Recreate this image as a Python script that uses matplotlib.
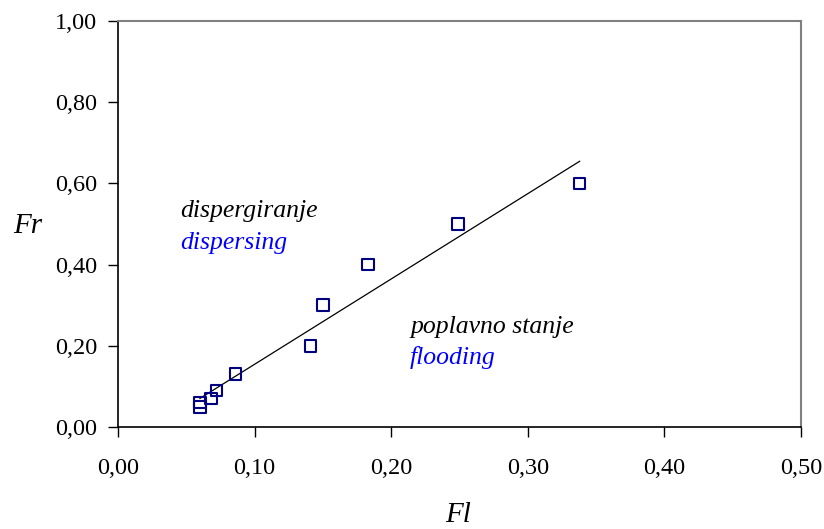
import numpy as np
import matplotlib
matplotlib.use("Agg")
import matplotlib.pyplot as plt
from matplotlib.ticker import FuncFormatter

# Fl (x) and Fr (y) values
fl = [0.060, 0.060, 0.068, 0.072, 0.086, 0.141, 0.150, 0.183, 0.249, 0.338]
fr = [0.06, 0.05, 0.07, 0.09, 0.13, 0.20, 0.30, 0.40, 0.50, 0.60]

x_ticks = [0.0, 0.1, 0.2, 0.3, 0.4, 0.5]
y_ticks = [0.0, 0.2, 0.4, 0.6, 0.8, 1.0]

plt.rcParams["font.family"] = ["Liberation Serif", "DejaVu Serif"]

fig = plt.figure(figsize=(8.24, 5.29), dpi=100)
ax = fig.add_axes([0.1432, 0.1928, 0.8288, 0.7675])

# linear trend line across the data range
slope, intercept = np.polyfit(fl, fr, 1)
xs = np.array([min(fl), max(fl)])
ax.plot(xs, slope * xs + intercept, color="black", lw=0.9)

ax.scatter(fl, fr, marker="s", s=70, facecolors="none",
           edgecolors="#000080", linewidths=1.5, zorder=3)

ax.set_xlim(0, 0.5)
ax.set_ylim(0, 1.0)
ax.set_xticks(x_ticks)
ax.set_yticks(y_ticks)
fmt = FuncFormatter(lambda v, p: f"{v:.2f}".replace(".", ","))
ax.xaxis.set_major_formatter(fmt)
ax.yaxis.set_major_formatter(fmt)
ax.tick_params(labelsize=17.5, length=7, width=1, direction="out")
ax.tick_params(axis="x", pad=15)
ax.tick_params(axis="y", pad=8)
for side in ("top", "right"):
    ax.spines[side].set_color("#808080")
    ax.spines[side].set_linewidth(1.5)
for side in ("left", "bottom"):
    ax.spines[side].set_linewidth(1.2)

ax.text(0.0454, 0.531, "dispergiranje", style="italic", fontsize=18.5,
        color="black", va="center")
ax.text(0.0454, 0.452, "dispersing", style="italic", fontsize=18.5,
        color="#0000ff", va="center")
ax.text(0.2138, 0.246, "poplavno stanje", style="italic", fontsize=18.5,
        color="black", va="center")
ax.text(0.2138, 0.172, "flooding", style="italic", fontsize=18.5,
        color="#0000ff", va="center")

fig.text(0.034, 0.573, "Fr", style="italic", fontsize=21, ha="center", va="center")
fig.text(0.556, 0.026, "Fl", style="italic", fontsize=21, ha="center", va="center")

fig.savefig("out.png", dpi=100)
